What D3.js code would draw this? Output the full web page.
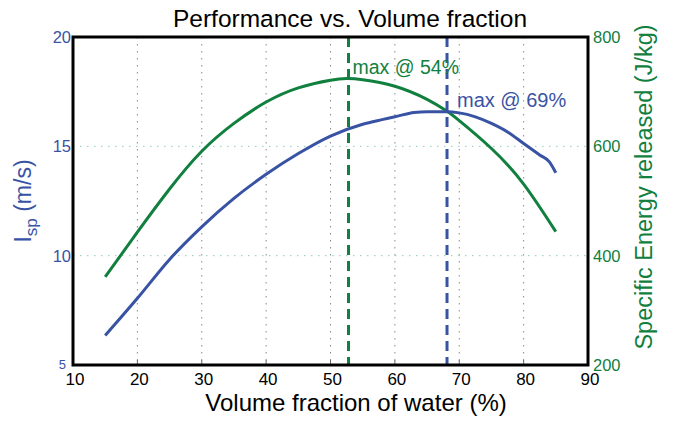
<!DOCTYPE html>
<html>
<head>
<meta charset="utf-8">
<script src="https://cdn.jsdelivr.net/npm/d3@7"></script>
<style>
  body { margin: 0; background: #fff; }
  text { font-family: "Liberation Sans", Arial, sans-serif; }
</style>
</head>
<body>
<script>
// data

var xTicks = [10, 20, 30, 40, 50, 60, 70, 80, 90]
var ispTicks = [5, 10, 15, 20]
var energyTicks = [200, 400, 600, 800]

// volume fraction (%) -> Isp (m/s)
var ispX = [15, 20, 25, 30, 35, 40, 45, 50, 55, 58, 60, 63, 65, 68, 70, 72.5, 75, 77.5, 80, 82.5, 84, 85]
var ispY = [6.35, 8.05, 9.83, 11.32, 12.62, 13.72, 14.67, 15.47, 16.01, 16.22, 16.35, 16.55, 16.58, 16.58, 16.53, 16.35, 16.05, 15.66, 15.13, 14.6, 14.29, 13.79]

// volume fraction (%) -> specific energy (J/kg)
var energyX = [15, 20, 25, 30, 35, 40, 45, 50, 52.5, 55, 60, 65, 68, 70, 75, 80, 85]
var energyY = [361, 443, 522, 591, 642, 681, 707, 721, 724, 722, 710, 686, 665, 647, 596, 531, 444]

var ispMax = 68.1
var energyMax = 52.8

var blue = "#3953a4"
var green = "#11803f"

//setup SVG

var w = 688
var h = 421

var svg = d3.select("body")
    .append("svg")
    .attr("width", w)
    .attr("height", h)

var x = d3.scaleLinear().domain([10, 90]).range([73, 588])
var yL = d3.scaleLinear().domain([5, 20]).range([365, 37])
var yR = d3.scaleLinear().domain([200, 800]).range([365, 37])

// grid

svg.append("g")
    .selectAll("line")
    .data(xTicks.slice(1, -1))
    .enter().append("line")
    .attr("x1", d => x(d)).attr("x2", d => x(d))
    .attr("y1", yL(20)).attr("y2", yL(5))
    .attr("stroke", "#8a8a8a")
    .attr("stroke-width", 1)
    .attr("stroke-dasharray", "1.5,5.5")

svg.append("g")
    .selectAll("line")
    .data([10, 15])
    .enter().append("line")
    .attr("x1", x(10)).attr("x2", x(90))
    .attr("y1", d => yL(d)).attr("y2", d => yL(d))
    .attr("stroke", "#8fcabb")
    .attr("stroke-width", 1)
    .attr("stroke-dasharray", "1.5,5.5")

// small inner ticks
svg.append("g")
    .selectAll("line")
    .data(xTicks.slice(1, -1))
    .enter().append("line")
    .attr("x1", d => x(d)).attr("x2", d => x(d))
    .attr("y1", yL(5)).attr("y2", yL(5) - 5)
    .attr("stroke", "#666")
    .attr("stroke-width", 1)

// curves

var ispLine = d3.line()
    .x(d => x(d[0]))
    .y(d => yL(d[1]))
    .curve(d3.curveMonotoneX)

var energyLine = d3.line()
    .x(d => x(d[0]))
    .y(d => yR(d[1]))
    .curve(d3.curveNatural)

svg.append("path")
    .attr("d", energyLine(d3.zip(energyX, energyY)))
    .attr("fill", "none")
    .attr("stroke", green)
    .attr("stroke-width", 3)

svg.append("path")
    .attr("d", ispLine(d3.zip(ispX, ispY)))
    .attr("fill", "none")
    .attr("stroke", blue)
    .attr("stroke-width", 3)

// max markers

svg.append("line")
    .attr("x1", x(energyMax)).attr("x2", x(energyMax))
    .attr("y1", yL(20)).attr("y2", yL(5))
    .attr("stroke", green)
    .attr("stroke-width", 3)
    .attr("stroke-dasharray", "10,6")

svg.append("line")
    .attr("x1", x(ispMax)).attr("x2", x(ispMax))
    .attr("y1", yL(20)).attr("y2", yL(5))
    .attr("stroke", blue)
    .attr("stroke-width", 3)
    .attr("stroke-dasharray", "10,6")

svg.append("text")
    .attr("x", x(energyMax) + 4)
    .attr("y", 73.5)
    .attr("fill", green)
    .attr("font-size", 19.5)
    .text("max @ 54%")

svg.append("text")
    .attr("x", x(ispMax) + 10)
    .attr("y", 107)
    .attr("fill", blue)
    .attr("font-size", 20)
    .text("max @ 69%")

// frame

svg.append("rect")
    .attr("x", x(10)).attr("y", yL(20))
    .attr("width", x(90) - x(10))
    .attr("height", yL(5) - yL(20))
    .attr("fill", "none")
    .attr("stroke", "#000")
    .attr("stroke-width", 3)

// tick labels

svg.append("g")
    .selectAll("text")
    .data(xTicks)
    .enter().append("text")
    .attr("x", d => x(d) + 2)
    .attr("y", 385)
    .attr("text-anchor", "middle")
    .attr("font-size", 17)
    .attr("fill", "#000")
    .text(d => d)

svg.append("g")
    .selectAll("text")
    .data(ispTicks)
    .enter().append("text")
    .attr("x", d => d == 5 ? 66 : 71)
    .attr("y", d => d == 5 ? yL(d) - 1 : yL(d))
    .attr("dy", "0.36em")
    .attr("text-anchor", "end")
    .attr("font-size", d => d == 5 ? 13 : 16.5)
    .attr("fill", blue)
    .text(d => d)

svg.append("g")
    .selectAll("text")
    .data(energyTicks)
    .enter().append("text")
    .attr("x", 593)
    .attr("y", d => yR(d))
    .attr("dy", "0.36em")
    .attr("font-size", 16.5)
    .attr("fill", green)
    .text(d => d)

// titles

svg.append("text")
    .attr("x", 350)
    .attr("y", 27)
    .attr("text-anchor", "middle")
    .attr("font-size", 24.5)
    .attr("fill", "#000")
    .text("Performance vs. Volume fraction")

svg.append("text")
    .attr("x", 356)
    .attr("y", 411)
    .attr("text-anchor", "middle")
    .attr("font-size", 24)
    .attr("fill", "#000")
    .text("Volume fraction of water (%)")

var ispLabel = svg.append("text")
    .attr("transform", "translate(31," + 201 + ") rotate(-90)")
    .attr("text-anchor", "middle")
    .attr("font-size", 23)
    .attr("fill", blue)

ispLabel.append("tspan").text("I")
ispLabel.append("tspan").attr("dy", 6).attr("font-size", 17).text("sp")
ispLabel.append("tspan").attr("dy", -6).text(" (m/s)")

svg.append("text")
    .attr("transform", "translate(652," + 187 + ") rotate(-90)")
    .attr("text-anchor", "middle")
    .attr("font-size", 23.5)
    .attr("fill", green)
    .text("Specific Energy released (J/kg)")
</script>
</body>
</html>
